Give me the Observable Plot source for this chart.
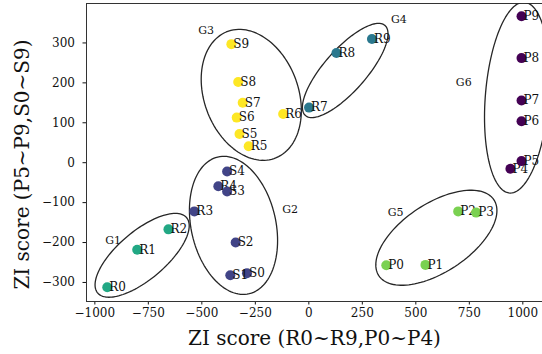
<!DOCTYPE html>
<html><head><meta charset="utf-8">
<script src="https://cdn.jsdelivr.net/npm/d3@7"></script>
<script src="https://cdn.jsdelivr.net/npm/@observablehq/plot@0.6"></script>
<style>body{margin:0;background:#fff;overflow:hidden} svg{display:block}</style>
</head><body><div id="chart"></div>
<script>
// ---- data ----
const names = ["R0","R1","R2","R3","R4","R5","R6","R7","R8","R9",
               "P0","P1","P2","P3","P4","P5","P6","P7","P8","P9",
               "S0","S1","S2","S3","S4","S5","S6","S7","S8","S9"];
const xs = [-942,-802,-656,-535,-423,-281,-120,1,129,295,
            362,545,698,782,942,994,994,994,994,994,
            -289,-367,-342,-382,-382,-324,-337,-309,-330,-362];
const ys = [-312,-218,-167,-122,-59,41,122,138,275,310,
            -257,-256,-122,-125,-15,4,104,156,262,367,
            -277,-282,-200,-72,-22,72,113,150,202,297];
const groupOf = ["G1","G1","G1","G2","G2","G3","G3","G4","G4","G4",
                 "G5","G5","G5","G5","G6","G6","G6","G6","G6","G6",
                 "G2","G2","G2","G2","G2","G3","G3","G3","G3","G3"];

const groupNames = ["G1","G2","G3","G4","G5","G6"];
const groupColors = ["#22a884","#414487","#fde725","#2a788e","#7ad151","#440154"];
const groupLabelX = [-915,-87,-480,421,406,724];
const groupLabelY = [-195,-118,332,358,-124,200];

// ellipse per group: centre, half width, half height, y-offset of rightmost point (data units)
const ellipseCx = [-779,-352,-269,170,596,973];
const ellipseCy = [-232,-157,170,231,-188,163];
const ellipseHalfW = [220,206,234,200,283,152];
const ellipseHalfH = [105,173,164,118,119,239];
const ellipseTilt = [74,-38,-39,92,68,49];

const xTicks = [-1000,-750,-500,-250,0,250,500,750,1000];
const yTicks = [-300,-200,-100,0,100,200,300];
const xTitle = "ZI score (R0~R9,P0~P4)";
const yTitle = "ZI score (P5~P9,S0~S9)";

// ---- build ----
const points = names.map((name, i) => ({name, x: xs[i], y: ys[i], group: groupOf[i]}));
const groupLabels = groupNames.map((g, i) => ({name: g, x: groupLabelX[i], y: groupLabelY[i]}));
const ellipsePts = groupNames.flatMap((g, i) => d3.range(0, 361, 3).map(deg => {
  const t = deg * Math.PI / 180, r = ellipseTilt[i], H = ellipseHalfH[i];
  return {group: g,
          x: ellipseCx[i] + ellipseHalfW[i] * Math.cos(t),
          y: ellipseCy[i] + r * Math.cos(t) + Math.sqrt(H * H - r * r) * Math.sin(t)};
}));

const xDomain = [-1039, 1092];
const yDomain = [-347.7, 398.8];
const font = "DejaVu Serif";
const fmt = d3.format("d");

const pointMarks = points.flatMap(p => [
  Plot.dot([p], {x: "x", y: "y", r: 5, fill: "group", stroke: "none"}),
  Plot.text([p], {x: "x", y: "y", text: "name", textAnchor: "start", dx: 2, fontSize: 12, fill: "#111"})
]);

const chart = Plot.plot({
  width: 542, height: 354,
  marginLeft: 86, marginRight: 0, marginTop: 3, marginBottom: 53,
  style: {fontFamily: font, fontSize: "12px", background: "#fff", color: "#111"},
  x: {domain: xDomain, ticks: xTicks, tickFormat: fmt, tickSize: 3.5, tickPadding: 3, label: null},
  y: {domain: yDomain, ticks: yTicks, tickFormat: fmt, tickSize: 3.5, tickPadding: 8, label: null},
  color: {domain: groupNames, range: groupColors},
  marks: [
    Plot.ruleY([yDomain[0], yDomain[1]], {stroke: "#333", strokeWidth: 1}),
    Plot.ruleX([xDomain[0]], {stroke: "#333", strokeWidth: 1}),
    Plot.line(ellipsePts, {x: "x", y: "y", z: "group", stroke: "#262626", strokeWidth: 1.3, clip: true}),
    Plot.text(groupLabels, {x: "x", y: "y", text: "name", fontSize: 11, fill: "#111"}),
    ...pointMarks,
    Plot.text([xTitle], {text: d => d, frameAnchor: "bottom", lineAnchor: "middle", textAnchor: "middle", dy: 37, fontSize: 20, fill: "#111"}),
    Plot.text([yTitle], {text: d => d, frameAnchor: "left", lineAnchor: "middle", textAnchor: "middle", rotate: -90, dx: -64, dy: 12, fontSize: 20, fill: "#111"})
  ]
});
document.getElementById("chart").appendChild(chart);
</script></body></html>
